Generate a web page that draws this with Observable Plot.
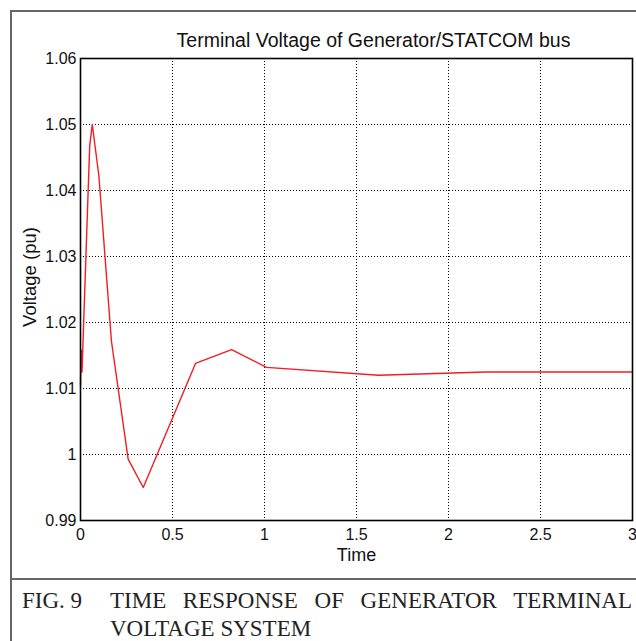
<!DOCTYPE html>
<html>
<head>
<meta charset="utf-8">
<script src="https://cdn.jsdelivr.net/npm/d3@7"></script>
<script src="https://cdn.jsdelivr.net/npm/@observablehq/plot@0.6"></script>
<style>
  html, body { margin: 0; padding: 0; background: #fff; width: 636px; height: 641px; overflow: hidden; }
  #wrap { position: relative; width: 636px; height: 641px; }
  #chart { position: absolute; left: 0; top: 0; }
  .border-left { position: absolute; left: 10px; top: 10px; width: 2px; height: 640px; background: #666; }
  .border-top { position: absolute; left: 10px; top: 10px; width: 640px; height: 2px; background: #666; }
  .sep { position: absolute; left: 10px; top: 578px; width: 640px; height: 2px; background: #666; }
  #ylab { position: absolute; left: 30px; top: 277px; transform: translate(-50%, -50%) rotate(-90deg); white-space: nowrap; font-family: "Liberation Sans", Arial, sans-serif; font-size: 18.5px; color: #111; line-height: 1; }
  #caption { position: absolute; left: 22px; top: 587px; width: 610px; font-family: "Liberation Serif", "Times New Roman", serif; font-size: 23px; line-height: 28px; color: #222; display: flex; }
  #caption .lab { width: 88px; flex: none; }
  #caption .txt { flex: 1; text-align: justify; }
</style>
</head>
<body>
<div id="wrap">
  <div id="chart"></div>
  <div id="ylab"></div>
  <div class="border-left"></div>
  <div class="border-top"></div>
  <div class="sep"></div>
  <div id="caption"><div class="lab">FIG. 9</div><div class="txt">TIME RESPONSE OF GENERATOR TERMINAL VOLTAGE SYSTEM</div></div>
</div>
<script>
const time    = [0, 0.004, 0.008, 0.05, 0.064, 0.1, 0.168, 0.259, 0.341, 0.625, 0.821, 1.011, 1.62, 2.2, 3];
const voltage = [1.0105, 1.0158, 1.0125, 1.0468, 1.05, 1.0422, 1.0172, 0.9993, 0.995, 1.0138, 1.0159, 1.0132, 1.012, 1.0125, 1.0125];
const xTicks = [0, 0.5, 1, 1.5, 2, 2.5, 3];
const yTicks = [0.99, 1, 1.01, 1.02, 1.03, 1.04, 1.05, 1.06];
const titleText = "Terminal Voltage of Generator/STATCOM bus";
const xLabel = "Time";
const yLabel = "Voltage (pu)";

document.getElementById("ylab").textContent = yLabel;

const data = time.map((t, i) => ({t, v: voltage[i]}));
const fmt = d => String(+d.toFixed(2));

const chart = Plot.plot({
  width: 636,
  height: 575,
  marginLeft: 80,
  marginTop: 58,
  marginRight: 4,
  marginBottom: 55,
  style: { fontFamily: "'Liberation Sans', Arial, sans-serif", fontSize: "16px", color: "#111", background: "transparent" },
  x: { domain: [0, 3], ticks: xTicks, tickFormat: fmt, label: null },
  y: { domain: [0.99, 1.06], ticks: yTicks, tickFormat: fmt, label: null },
  marks: [
    Plot.gridX(xTicks.slice(1, -1), { stroke: "#000", strokeOpacity: 1, strokeWidth: 1, strokeDasharray: "1,2" }),
    Plot.gridY(yTicks.slice(1, -1), { stroke: "#000", strokeOpacity: 1, strokeWidth: 1, strokeDasharray: "1,2" }),
    Plot.axisX(xTicks, { tickSize: 0, tickPadding: 8, tickFormat: fmt, fontSize: 16 }),
    Plot.axisY(yTicks, { tickSize: 0, tickPadding: 4, tickFormat: fmt, fontSize: 16 }),
    Plot.line(data, { x: "t", y: "v", stroke: "#f21c24", strokeWidth: 1.4 }),
    Plot.frame({ stroke: "#000", strokeWidth: 1.6 }),
    Plot.text([titleText], { frameAnchor: "top", dx: 17, dy: -25, fontSize: 19.5, fill: "#111" }),
    Plot.text([xLabel], { frameAnchor: "bottom", dy: 40, fontSize: 18, fill: "#111" })
  ]
});
document.getElementById("chart").appendChild(chart);
</script>
</body>
</html>
